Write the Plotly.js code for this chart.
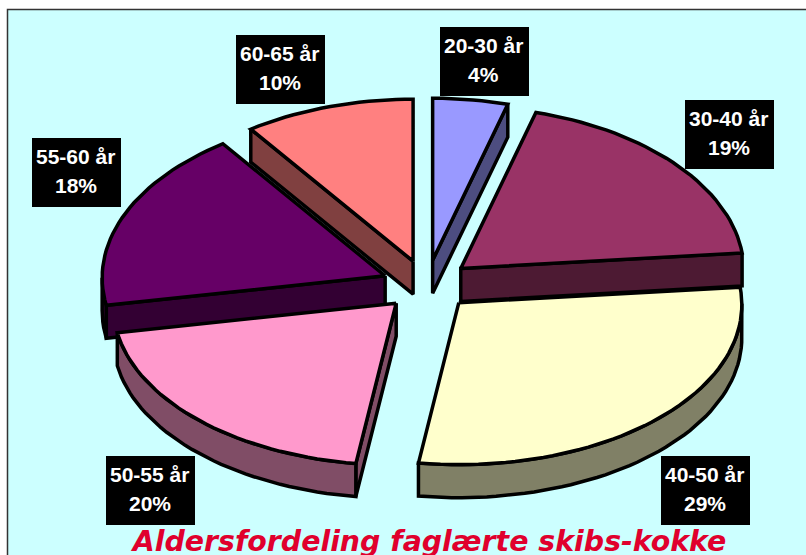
<!DOCTYPE html>
<html>
<head>
<meta charset="utf-8">
<script src="https://cdn.plot.ly/plotly-3.0.1.min.js"></script>
<style>html,body{margin:0;padding:0;background:#fff;overflow:hidden}</style>
</head>
<body>
<div id="chart" style="width:806px;height:555px"></div>
<script>
const categories = ['20-30 år','30-40 år','40-50 år','50-55 år','55-60 år','60-65 år'];
const percentValues = [4,19,29,20,18,10];
const topColors = ['#9999FF','#993366','#FFFFCC','#FF99CC','#660066','#FF8080'];
const wallColors = ['#4D4D80','#4D1A33','#808066','#804D66','#330033','#804040'];
const drawOrder = [0,5,1,4,2,3];
const labelBoxLeft = [440,685,661,106,32,236];
const labelBoxTop = [27,100,456,456,138,35];

const cx = 427, cy = 285, rx = 283, ry = 162, sag = 2, turn = 1, depth = 33, pullX = 45, pullY = 25;
const rad = d => d * Math.PI / 180;
const rim = (t, a) => {
  const b = rad(a + turn * Math.min(1, Math.abs(Math.sin(rad(a))) * 8));
  return [t[0] + rx * Math.sin(b), t[1] - ry * Math.cos(b) + sag * Math.sin(b) * Math.sin(b)];
};

const total = percentValues.reduce((a, b) => a + b, 0);
let acc = 0;
const slices = percentValues.map((v, i) => {
  const a0 = acc / total * 360; acc += v; const a1 = acc / total * 360;
  const m = rad((a0 + a1) / 2);
  const tip = [cx + pullX * Math.sin(m), cy - pullY * Math.cos(m)];
  const arc = [];
  const n = Math.max(6, Math.ceil((a1 - a0) / 2));
  for (let k = 0; k <= n; k++) arc.push(rim(tip, a0 + (a1 - a0) * k / n));
  return {i, tip, arc};
});

function poly(pts, fill) {
  const c = pts.concat([pts[0]]);
  return {type:'scatter', mode:'lines', x:c.map(p => p[0]), y:c.map(p => p[1]),
    fill:'toself', fillcolor:fill, line:{color:'#000', width:3.5, shape:'linear'},
    hoverinfo:'skip', showlegend:false};
}
function wall(path, fill) {
  const low = path.map(p => [p[0], p[1] + depth]).reverse();
  return poly(path.concat(low), fill);
}

const data = [];
drawOrder.forEach(i => {
  const s = slices[i];
  const first = s.arc[0], last = s.arc[s.arc.length - 1];
  if (first[0] < s.tip[0]) data.push(wall([s.tip, first], wallColors[i]));
  const run = s.arc.filter((p, k) => {
    const prev = s.arc[k - 1], next = s.arc[k + 1];
    return (next && next[0] < p[0]) || (prev && prev[0] > p[0]);
  });
  if (run.length > 1) data.push(wall(run, wallColors[i]));
  if (s.tip[0] < last[0]) data.push(wall([last, s.tip], wallColors[i]));
  data.push(poly([s.tip].concat(s.arc), topColors[i]));
});

const shapes = [{type:'rect', xref:'x', yref:'y', x0:7.5, y0:9.5, x1:830, y1:580,
  fillcolor:'#CCFFFF', line:{color:'#333', width:1.5}, layer:'below'}];
const annotations = [];
categories.forEach((c, i) => {
  const l = labelBoxLeft[i], t = labelBoxTop[i];
  shapes.push({type:'rect', xref:'x', yref:'y', x0:l, x1:l + 89, y0:t, y1:t + 69,
    fillcolor:'#000', line:{width:0}, layer:'above'});
  [[c, 18], [percentValues[i] + '%', 47]].forEach(([txt, off]) => {
    annotations.push({xref:'x', yref:'y', x:l + 43.5, y:t + off, text:'<b>' + txt + '</b>',
      showarrow:false, xanchor:'center', yanchor:'middle',
      font:{family:'"Liberation Sans", Arial, sans-serif', size:21, color:'#fff'}});
  });
});

const layout = {
  width:806, height:555, margin:{l:0, r:0, t:0, b:0},
  paper_bgcolor:'#fff', plot_bgcolor:'rgba(0,0,0,0)', showlegend:false,
  xaxis:{range:[0,806], visible:false, fixedrange:true},
  yaxis:{range:[555,0], visible:false, fixedrange:true},
  shapes, annotations,
  title:{text:'<b><i>Aldersfordeling faglærte skibs-kokke</i></b>',
    x:429.5/806, xref:'paper', xanchor:'center', y:1 - 541/555, yref:'paper', yanchor:'middle',
    font:{family:'"DejaVu Sans", Verdana, sans-serif', size:28.4, color:'#E0002D'}}
};
Plotly.newPlot('chart', data, layout, {displayModeBar:false, staticPlot:true});
</script>
</body>
</html>
